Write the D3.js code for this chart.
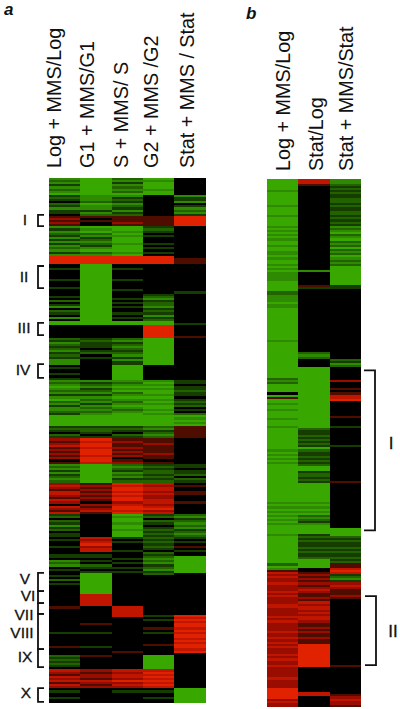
<!DOCTYPE html>
<html>
<head>
<meta charset="utf-8">
<script src="https://cdn.jsdelivr.net/npm/d3@7"></script>
<style>
  html, body { margin: 0; padding: 0; background: #fff; }
  text { font-family: "Liberation Sans", Arial, sans-serif; fill: #111; }
</style>
</head>
<body>
<div id="container"></div>
<script>
// cell levels: . = 0, a b c d = green -1..-4, w x y z = red +1..+4
var levels = {".": 0, a: -1, b: -2, c: -3, d: -4, w: 1, x: 2, y: 3, z: 4};

// panel a, 10 rows per chunk
var labelsA = ["Log + MMS/Log", "G1 + MMS/G1", "S + MMS/ S", "G2 + MMS /G2", "Stat + MMS / Stat"];
var aLog = ["cbcacbcdab","a.bacaa.wx","wxwcacbaca","cacbcaczzz","z..a....a.","..a...a.b.","ac.ba.c.dd","......bacb","abcabaccc.","a..a.acbcd",
  "cbcacdbcac","cbadddddab","a.baxwxywx","wxwx.wcbca","cabcbxyxwy","yxwyx.yxwy","ab.bacab.a","a.a..a...a","a.cbc.a..a",".b.a......",
  "....w.....","......a...","...w...bab","aba.yxwyxy","wyx.a..a.."];
var aG1 = ["ddddddddcc","cbdccacbw.","w..dcdbcab","cbacdbczzz","zddddddddd","dddddddddd","dddddddddd","......abaa","a.ab.a....","......cabc",
  "abcacbcacb","cbcdddddab","ba.azyzzyz","zzyzzydddd","dddddwxwxw","xwxw.xwxyw","..........",".yxyzxyy.a","a.a.ba.add","ddddddddyy",
  "yyyy......","..w...a...","...a...w..","....xwxxwy","xwx......."];
var aS = ["bcacbcbdca","bacbacabww","wxwddcdcdd","dcdddcdzzz","z..a....a.","...a...a.a",".a..a.a.dd","......bcab","cbabcacaad","ddddddcbcd",
  "cdbcdcbcdc","bcddddddab","a.bawxwwxw","xwx.wxbcba","cbcabzyzzy","zyzzxyzzyz","dcddcddcdd","da.a...a..",".a.a.a.a..","..........",
  "....yyyyy.","..........",".....w....","....yxyyxz","xyx.a....."];
var aG2 = ["dcdddcdd..","........ww","wwwaba.a..",".a.a.a.zzz","z.........",".....abcab","bcabacabdd","zzzzzzdddd","ddddddddd.","......cdcd",
  "cddcdcdcdd","cdcdddddbc","abcbwwxwww","wxww.wabab","bababyxyyx","yxxyyxyzxy","ab.ba.abab","abababa.ba","bcbcabcab.","..........",
  "........a.","a...w.a...","..w....ddd","ddddyzyzyz","yzy.a..a.."];
var aStat = ["........ca","ac.acbcazz","zzz.......","........ww","w.........","....a.....",".........a",".....w....","..........","......aa.a",
  "abaa.abab.","a.bdcdcdww","wwww......","......aa.a","ab.ba.w..w","w...w.....","bcabcbcabc","ba.a.w.a..","dddddddd..","..........",
  "........zy","zyzzyzyzzy","zyzzyz....","..........","...ddddddd"];

// panel b
var labelsB = ["Log + MMS/Log", "Stat/Log", "Stat + MMS/Stat"];
var bLog = ["dddddcdddd","ddcddddcdd","ddcdcdcdcd","dcddccdcdd","cdcdccccdd","dddbbcccdc","cddddddddd","ddddddcddd","dddddddddd","ddddbcbddd",
  "d.dwddcddc","dddcdddcdd","ddddddddcd","cdcdcddddd","dddddddddd","dddcdcdcdc","dcdcddddcd","dddddddddd","ddbdcwyxyx","xyxxxyxyxx",
  "xyyxxxxyxy","xxxxyxxyxy","xyxxxyxyxx","yxxxxxyxxx","xzzzzzxyxx"];
var bStat = ["yyw.......","..........","..........","..........","...c......","wa........","..........","..........","..bcb....d","dddddddddd",
  "dddddddddd","ddddddddba","abababadba","abababddab","babadddddd","dddcdcdcdb","cbacddddab","abaababaab","dddd..wxwx","wxwxyxwwxw",
  "yxyyxyxyyx","wwxwxwwxww","zzzzzzzzzz","z.........","...yy....."];
var bMms = ["ccbababaab","babaabbaba","bacbcdbcdb","cbdbcbdcbc","bddddddddd","aa........","..........","..........",".....bacb.",".....x...w",
  ".wyyz.....","..w....a..","......a...","..........","...w......","..........",".....ddddb","abaababaab","abwwyzyabc","axyxwwwxw.",
  "..........","..........","..........","w.........","....wxyxxw"];

var columnsA = [aLog, aG1, aS, aG2, aStat];
var columnsB = [bLog, bStat, bMms];

// clusters, in row units of their panel
var clustersA = ["I", "II", "III", "IV", "V", "VI", "VII", "VIII", "IX", "X"];
var clusterStartA = [17.6, 41.9, 69, 88.6, 188, 196.7, 202.4, 207.6, 224.3, 242.9];
var clusterEndA = [22.9, 52.4, 74.8, 95.2, 196.7, 202.4, 207.6, 224.3, 232.9, 249.5];
var clusterLabelA = [19.5, 47, 71, 91, 190.5, 199, 207.6, 216.2, 228, 245];
var clusterLabelXA = [25, 24, 24, 23, 25, 28, 24, 22, 25, 26];

var clustersB = ["I", "II"];
var clusterStartB = [90.5, 197.5];
var clusterEndB = [166.3, 230.2];

var color = d3.scaleLinear()
  .domain([-4, -3, -2, -1, 0, 1, 2, 3, 4])
  .range(["#38a800", "#2e8a00", "#226400", "#123c00", "#000000", "#500800", "#981000", "#c01400", "#e02000"]);

var svg = d3.select("#container")
  .append("svg")
    .attr("width", 400)
    .attr("height", 709)
    .style("display", "block");

svg.append("defs").append("filter")
    .attr("id", "soft")
    .attr("x", "-2%").attr("y", "-2%").attr("width", "104%").attr("height", "104%")
  .append("feGaussianBlur")
    .attr("stdDeviation", "0.5 0.55");

function drawPanel(columns, left, right, top, bottom) {
  var x = d3.scaleBand().domain(d3.range(columns.length)).range([left, right]);
  var y = d3.scaleBand().domain(d3.range(250)).range([top, bottom]);

  var cells = [];
  columns.forEach(function(col, c) {
    col.join("").split("").forEach(function(ch, r) {
      cells.push({c: c, r: r, v: levels[ch]});
    });
  });

  svg.append("g")
      .attr("filter", "url(#soft)")
    .selectAll("rect")
    .data(cells)
    .enter().append("rect")
      .attr("x", function(d) { return x(d.c); })
      .attr("y", function(d) { return y(d.r); })
      .attr("width", x.bandwidth())
      .attr("height", y.bandwidth())
      .attr("shape-rendering", "crispEdges")
      .attr("fill", function(d) { return color(d.v); });

  return d3.scaleLinear().domain([0, 250]).range([top, bottom]);
}

var yA = drawPanel(columnsA, 49, 205.5, 178, 703);
var yB = drawPanel(columnsB, 267, 361, 179.3, 707);

// column headings, rotated
function headings(labels, baselines, bottom) {
  svg.selectAll(null)
    .data(labels)
    .enter().append("text")
      .attr("transform", function(d, i) { return "translate(" + baselines[i] + "," + bottom + ") rotate(-90)"; })
      .style("font-size", "19.8px")
      .text(function(d) { return d; });
}
headings(labelsA, [61, 94, 127.5, 158, 194], 168);
headings(labelsB, [290, 323, 353], 171);

svg.append("text").attr("x", 4).attr("y", 15)
    .style("font-size", "17px").style("font-weight", "bold").style("font-style", "italic").text("a");
svg.append("text").attr("x", 246).attr("y", 19)
    .style("font-size", "17px").style("font-weight", "bold").style("font-style", "italic").text("b");

// cluster brackets
clustersA.forEach(function(name, i) {
  var y0 = yA(clusterStartA[i]), y1 = yA(clusterEndA[i]);
  svg.append("path")
      .attr("d", "M44," + y0 + "H38V" + y1 + "H44")
      .attr("fill", "none")
      .attr("stroke", "#111")
      .attr("stroke-width", 1.8);
  svg.append("text")
      .attr("x", clusterLabelXA[i])
      .attr("y", yA(clusterLabelA[i]))
      .attr("text-anchor", "middle")
      .attr("dy", "0.36em")
      .style("font-size", "15.5px")
      .style("stroke", "#111")
      .style("stroke-width", "0.3px")
      .text(name);
});

clustersB.forEach(function(name, i) {
  var y0 = yB(clusterStartB[i]), y1 = yB(clusterEndB[i]);
  var x0 = 364 + i, x1 = 375 + i;
  svg.append("path")
      .attr("d", "M" + x0 + "," + y0 + "H" + x1 + "V" + y1 + "H" + x0)
      .attr("fill", "none")
      .attr("stroke", "#111")
      .attr("stroke-width", 1.8);
  svg.append("text")
      .attr("x", 391 + 2 * i)
      .attr("y", (y0 + y1) / 2 - (i == 0 ? 7 : 0))
      .attr("text-anchor", "middle")
      .attr("dy", "0.36em")
      .style("font-size", "17px")
      .style("stroke", "#111")
      .style("stroke-width", "0.3px")
      .text(name);
});
</script>
</body>
</html>
